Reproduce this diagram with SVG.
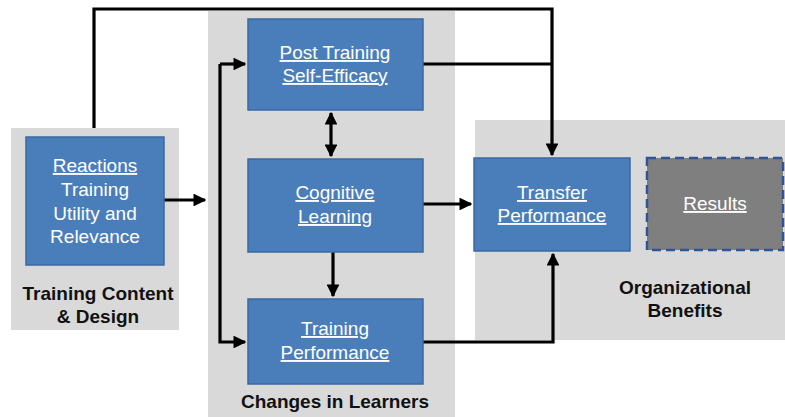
<svg xmlns="http://www.w3.org/2000/svg" width="785" height="417" viewBox="0 0 785 417">
<style>
.panel{fill:#d9d9d9}
.box{fill:#4a7ebb;stroke:#3b6aa3;stroke-width:1.5}
.res{fill:#7f7f7f;stroke:#2f5597;stroke-width:2.5;stroke-dasharray:9,5}
.t{font-family:"Liberation Sans",Arial,sans-serif;font-size:19px;fill:#ffffff;text-anchor:middle}
.u{text-decoration:underline}
.lbl{font-family:"Liberation Sans",Arial,sans-serif;font-size:19px;font-weight:bold;fill:#111111;text-anchor:middle}
.c{fill:none;stroke:#000;stroke-width:3.2}
</style>
<defs>
<marker id="ah" viewBox="0 0 10 10" refX="9" refY="5" markerWidth="4" markerHeight="4" orient="auto-start-reverse" markerUnits="strokeWidth">
<path d="M0,0 L10,5 L0,10 z" fill="#000"/>
</marker>
</defs>
<rect width="785" height="417" fill="#ffffff"/>
<g id="panels">
<rect class="panel" x="11" y="128" width="168" height="202"/>
<rect class="panel" x="208" y="11" width="247" height="406"/>
<rect class="panel" x="475" y="120" width="310" height="220"/>
<text class="lbl" x="98" y="300">Training Content</text>
<text class="lbl" x="98" y="323">&amp; Design</text>
<text class="lbl" x="335" y="408">Changes in Learners</text>
<text class="lbl" x="685" y="294">Organizational</text>
<text class="lbl" x="685" y="317">Benefits</text>
</g>
<g id="connectors">
<polyline class="c" points="94,128 94,9 552,9 552,155" marker-end="url(#ah)"/>
<line class="c" x1="422" y1="64" x2="552" y2="64"/>
<line class="c" x1="164" y1="200" x2="205" y2="200" marker-end="url(#ah)"/>
<line class="c" x1="220" y1="64" x2="245" y2="64" marker-end="url(#ah)"/>
<polyline class="c" points="220,64 220,342 245,342" marker-end="url(#ah)"/>
<line class="c" x1="331" y1="113" x2="331" y2="156" marker-start="url(#ah)" marker-end="url(#ah)"/>
<line class="c" x1="333" y1="252" x2="333" y2="296" marker-end="url(#ah)"/>
<line class="c" x1="423" y1="204" x2="471" y2="204" marker-end="url(#ah)"/>
<polyline class="c" points="423,342 553,342 553,254" marker-end="url(#ah)"/>
</g>
<g id="reactions">
<rect class="box" x="26" y="137" width="138" height="128"/>
<text class="t u" x="95" y="172">Reactions</text>
<text class="t" x="95" y="196">Training</text>
<text class="t" x="95" y="220">Utility and</text>
<text class="t" x="95" y="243">Relevance</text>
</g>
<g id="post-training">
<rect class="box" x="248" y="19" width="175" height="91"/>
<text class="t u" x="335" y="59">Post Training</text>
<text class="t u" x="335" y="82">Self-Efficacy</text>
</g>
<g id="cognitive">
<rect class="box" x="248" y="159" width="175" height="93"/>
<text class="t u" x="335" y="199">Cognitive</text>
<text class="t u" x="335" y="223">Learning</text>
</g>
<g id="training-performance">
<rect class="box" x="248" y="299" width="175" height="85"/>
<text class="t u" x="335" y="335">Training</text>
<text class="t u" x="335" y="359">Performance</text>
</g>
<g id="transfer">
<rect class="box" x="474" y="158" width="156" height="93"/>
<text class="t u" x="552" y="199">Transfer</text>
<text class="t u" x="552" y="222">Performance</text>
</g>
<g id="results">
<rect class="res" x="647" y="158" width="136" height="92"/>
<text class="t u" x="715" y="210">Results</text>
</g>
</svg>
